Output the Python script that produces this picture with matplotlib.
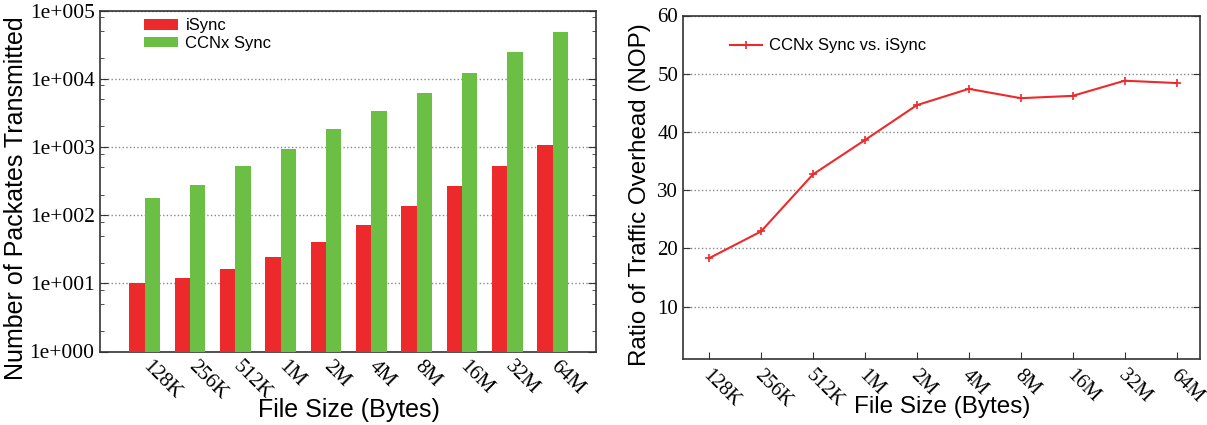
import matplotlib
matplotlib.use("Agg")
import matplotlib.pyplot as plt
import matplotlib.transforms as mtransforms
import numpy as np
from matplotlib.ticker import LogLocator, FixedLocator, NullFormatter, FuncFormatter

categories = ["128K", "256K", "512K", "1M", "2M", "4M", "8M", "16M", "32M", "64M"]
isync = [10, 12, 16, 24, 40, 72, 135, 265, 525, 1050]
ccnx = [180, 275, 530, 930, 1800, 3400, 6200, 12000, 25000, 49000]
ratio = [18.3, 22.9, 32.7, 38.6, 44.6, 47.4, 45.8, 46.2, 48.8, 48.4]

RED = "#ed2a2b"
GREEN = "#6cbf45"
SERIF = "Liberation Serif"
SANS = "Liberation Sans"
SPINE = "#333333"

W, H = 1207, 425
fig = plt.figure(figsize=(W / 100, H / 100), dpi=100)

def rect(l, r, t, b):
    return [l / W, (H - b) / H, (r - l) / W, (b - t) / H]

# ---------------- left chart ----------------
ax1 = fig.add_axes(rect(99.5, 596, 10.5, 351.5))
x = np.arange(1, len(categories) + 1)
bw = 0.338
ax1.bar(x - bw / 2, isync, width=bw, color=RED, label="iSync", zorder=3)
ax1.bar(x + bw / 2, ccnx, width=bw, color=GREEN, label="CCNx Sync", zorder=3)
ax1.set_yscale("log")
ax1.set_ylim(1, 1e5)
ax1.set_xlim(0, 10.96)
ax1.yaxis.set_major_locator(LogLocator(base=10, numticks=10))
ax1.yaxis.set_minor_locator(LogLocator(base=10, subs=(2, 5, 8), numticks=10))
ax1.yaxis.set_minor_formatter(NullFormatter())
ax1.yaxis.set_major_formatter(FuncFormatter(lambda v, p: "1e+%03d" % int(round(np.log10(v)))))
ax1.tick_params(axis="x", length=0, pad=4)
ax1.tick_params(axis="y", which="both", direction="in", right=True, left=True,
                labelsize=15.5, color=SPINE)
ax1.tick_params(axis="y", which="major", length=6)
ax1.tick_params(axis="y", which="minor", length=3)
ax1.set_xticks(x)
ax1.set_xticklabels(categories, rotation=-45, ha="left", va="top",
                    fontfamily=SERIF, fontsize=15)
shift = mtransforms.ScaledTranslation(-6 / 100, 0, fig.dpi_scale_trans)
for lab in ax1.get_xticklabels():
    lab.set_transform(lab.get_transform() + shift)
for lab in ax1.get_yticklabels():
    lab.set_fontfamily(SERIF)
ax1.yaxis.grid(True, which="major", linestyle=":", color="#888888", linewidth=1, zorder=0)
ax1.set_axisbelow(True)
for s in ax1.spines.values():
    s.set_color(SPINE)
    s.set_linewidth(1.2)
ax1.set_ylabel("Number of Packates Transmitted", fontfamily=SANS, fontsize=18, va="center")
ax1.yaxis.set_label_coords(-0.168, 0.45)
ax1.set_xlabel("File Size (Bytes)", fontfamily=SANS, fontsize=18, va="center")
ax1.xaxis.set_label_coords(0.502, -0.172)
ax1.legend(loc="upper left", bbox_to_anchor=(0.066, 1.012), frameon=False,
           prop={"family": SANS, "size": 12}, handlelength=2.07, handleheight=0.62,
           handletextpad=0.42, labelspacing=0.17, borderaxespad=0.3)

# ---------------- right chart ----------------
ax2 = fig.add_axes(rect(683, 1200, 15.5, 359))
ax2.plot(x, ratio, color=RED, marker="+", markersize=6, markeredgewidth=1.2,
         linewidth=1.5, label="CCNx Sync vs. iSync", zorder=3)
ax2.set_xlim(0.5, 10.45)
ax2.set_ylim(1, 60)
ax2.yaxis.set_major_locator(FixedLocator([10, 20, 30, 40, 50, 60]))
ax2.tick_params(axis="x", direction="in", length=5, pad=5, color=SPINE)
ax2.tick_params(axis="y", direction="in", length=5, right=True, left=True,
                labelsize=15, color=SPINE)
ax2.set_xticks(x)
ax2.set_xticklabels(categories, rotation=-45, ha="left", va="top",
                    rotation_mode="anchor", fontfamily=SERIF, fontsize=14.5)
shift2 = mtransforms.ScaledTranslation(3 / 100, 0, fig.dpi_scale_trans)
for lab in ax2.get_xticklabels():
    lab.set_transform(lab.get_transform() + shift2)
for lab in ax2.get_yticklabels():
    lab.set_fontfamily(SERIF)
ax2.yaxis.grid(True, linestyle=":", color="#888888", linewidth=1, zorder=0)
ax2.set_axisbelow(True)
for s in ax2.spines.values():
    s.set_color(SPINE)
    s.set_linewidth(1.2)
ax2.set_ylabel("Ratio of Traffic Overhead (NOP)", fontfamily=SANS, fontsize=17.4, va="center")
ax2.yaxis.set_label_coords(-0.083, 0.479)
ax2.set_xlabel("File Size (Bytes)", fontfamily=SANS, fontsize=17.5, va="center")
ax2.xaxis.set_label_coords(0.501, -0.14)
ax2.legend(loc="upper left", bbox_to_anchor=(0.062, 0.977), frameon=False,
           prop={"family": SANS, "size": 12}, handlelength=1.9, handletextpad=0.42)

fig.savefig("out.png", dpi=100)
